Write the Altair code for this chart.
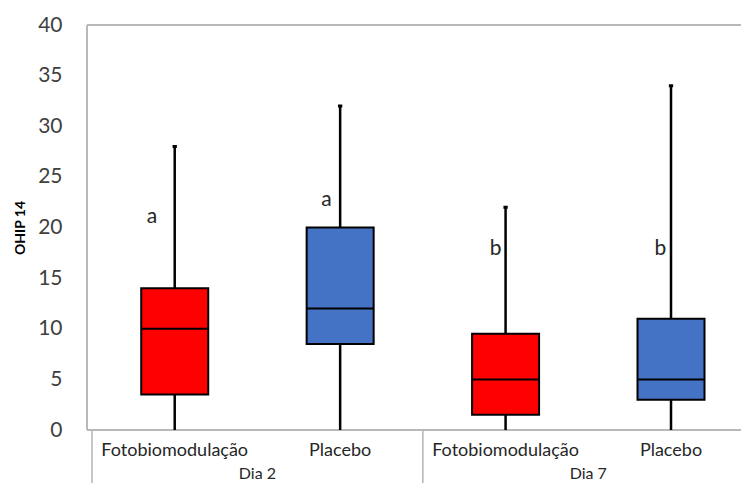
import altair as alt
import pandas as pd

# ---- data ----
groups = ["Dia 2", "Dia 2", "Dia 7", "Dia 7"]
treatments = ["Fotobiomodulação", "Placebo", "Fotobiomodulação", "Placebo"]
mins = [0, 0, 0, 0]
q1 = [3.5, 8.5, 1.5, 3]
medians = [10, 12, 5, 5]
q3 = [14, 20, 9.5, 11]
maxs = [28, 32, 22, 34]
letters = ["a", "a", "b", "b"]
letter_y = [21, 22.7, 17.9, 17.9]
y_ticks = [0, 5, 10, 15, 20, 25, 30, 35, 40]
group_names = ["Dia 2", "Dia 7"]

W, H = 654, 405
x_max = W / 168.0

df = pd.DataFrame({
    "group": groups,
    "treatment": treatments,
    "min": mins,
    "q1": q1,
    "median": medians,
    "q3": q3,
    "max": maxs,
    "letter": letters,
    "ly": letter_y,
})
df["pos"] = [i + 0.5 for i in range(len(df))]
letter_dx = [-0.137, -0.083, -0.06, -0.065]
df["lpos"] = df["pos"] + pd.Series(letter_dx)

gdf = pd.DataFrame({"group": group_names, "gpos": [1.0, 3.0]})
sep = pd.DataFrame({"sx": [0.0, 2.0]})

xs = alt.Scale(domain=[0, x_max], nice=False, zero=False)
ys = alt.Scale(domain=[0, 40], nice=False)
color = alt.Color("treatment:N",
                  scale=alt.Scale(domain=["Fotobiomodulação", "Placebo"],
                                  range=["#FF0000", "#4472C4"]),
                  legend=None)

base = alt.Chart(df)
X = alt.X("pos:Q", scale=xs, axis=None)
yaxis = alt.Axis(values=y_ticks, labelFont="Lato", labelFontSize=21,
                 labelColor="#404040", labelPadding=25, ticks=False,
                 domain=False, grid=False, title="OHIP 14", titleFont="Lato",
                 titleFontSize=14, titleFontWeight="bold", titleColor="black",
                 titleX=-67, titleBaseline="middle")

whisker = base.mark_rule(color="black", strokeWidth=2.5).encode(
    x=X, y=alt.Y("min:Q", scale=ys, axis=yaxis), y2="max:Q")

cap = base.transform_calculate(
    xa="datum.pos - 0.013", xb="datum.pos + 0.013"
).mark_rule(color="black", strokeWidth=3).encode(
    x=alt.X("xa:Q", scale=xs, axis=None), x2="xb:Q", y=alt.Y("max:Q", scale=ys))

box = base.mark_bar(size=67, stroke="black", strokeWidth=2).encode(
    x=X, y=alt.Y("q1:Q", scale=ys), y2="q3:Q", color=color)

med = base.transform_calculate(
    xa="datum.pos - 0.2", xb="datum.pos + 0.2"
).mark_rule(color="black", strokeWidth=2).encode(
    x=alt.X("xa:Q", scale=xs, axis=None), x2="xb:Q", y=alt.Y("median:Q", scale=ys))

let = base.mark_text(font="Lato", fontSize=21, color="#262626",
                     baseline="middle", align="center").encode(
    x=alt.X("lpos:Q", scale=xs, axis=None), y=alt.Y("ly:Q", scale=ys), text="letter:N")

cat = base.mark_text(font="Lato", fontSize=18, color="#262626",
                     baseline="middle", align="center").encode(
    x=X, y=alt.value(H + 21), text="treatment:N")

grp = alt.Chart(gdf).mark_text(font="Lato", fontSize=16, color="#262626",
                               baseline="alphabetic", align="center").encode(
    x=alt.X("gpos:Q", scale=xs, axis=None), y=alt.value(H + 49), text="group:N")

gray = "#b4b4b4"
seps = alt.Chart(sep).mark_rule(color=gray, strokeWidth=1.5).encode(
    x=alt.X("sx:Q", scale=xs, axis=None), y=alt.value(H), y2=alt.value(H + 60))
left = alt.Chart(sep).mark_rule(color=gray, strokeWidth=1.5).encode(
    x=alt.value(0), y=alt.value(0), y2=alt.value(H))
top = alt.Chart(sep).mark_rule(color=gray, strokeWidth=1.5).encode(
    x=alt.value(0), x2=alt.value(W), y=alt.value(0))
bottom = alt.Chart(sep).mark_rule(color=gray, strokeWidth=1.5).encode(
    x=alt.value(0), x2=alt.value(W), y=alt.value(H))

chart = alt.layer(
    top, bottom, left, seps, whisker, cap, box, med, let, cat, grp
).properties(
    width=W, height=H,
    autosize=alt.AutoSizeParams(type="none"),
    padding={"left": 79, "top": 17, "right": 0, "bottom": 53},
).configure_view(stroke=None)

chart.save("out.html", embed_options={"renderer": "svg", "actions": False})
